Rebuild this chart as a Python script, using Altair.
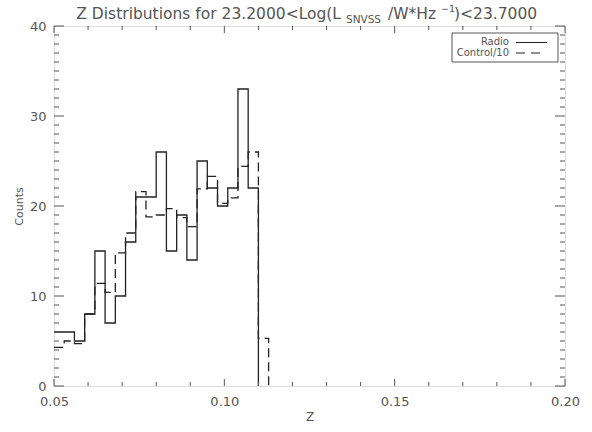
import altair as alt
import pandas as pd

# ---- data ----
bin_edges = [0.050, 0.053, 0.056, 0.059, 0.062, 0.065, 0.068, 0.071, 0.074, 0.077,
             0.080, 0.083, 0.086, 0.089, 0.092, 0.095, 0.098, 0.101, 0.104, 0.107,
             0.110, 0.113]
radio_counts = [6, 6, 5, 8, 15, 7, 10, 16, 21, 21, 26, 15, 19, 14, 25, 22, 20, 22, 33, 22]
control_counts = [4.3, 5.0, 4.7, 8.0, 11.4, 10.4, 14.8, 17.0, 21.6, 18.8, 19.0, 19.7,
                  18.7, 17.7, 21.9, 23.3, 20.3, 20.9, 24.4, 26.0, 5.3]

x_major = [0.05, 0.10, 0.15, 0.20]
x_minor = [0.06, 0.07, 0.08, 0.09, 0.11, 0.12, 0.13, 0.14, 0.16, 0.17, 0.18, 0.19]
y_major = [0, 10, 20, 30, 40]
y_minor = [v for v in range(0, 41) if v % 10 != 0]

title_parts = ["Z Distributions for 23.2000<Log(L", "SNVSS", "/W*Hz", "\u22121", ")<23.7000"]
legend_labels = ["Radio", "Control/10"]

W, H = 511, 360
GREY = "#555555"
LINE = "#222222"
FONT = "DejaVu Sans"

radio_df = pd.DataFrame({"z": bin_edges[:len(radio_counts) + 1],
                         "count": radio_counts + [0]})
control_df = pd.DataFrame({"z": bin_edges[:len(control_counts) + 1],
                           "count": control_counts + [0]})
one_row = pd.DataFrame({"k": [0]})

xscale = alt.Scale(domain=[0.05, 0.20], nice=False, zero=False)
yscale = alt.Scale(domain=[0, 40], nice=False)

common_axis = dict(grid=False, domain=False, tickColor=GREY, tickWidth=1,
                   labelColor=GREY, labelFont=FONT, titleFont=FONT, titleColor=GREY,
                   titleFontWeight="normal", labelFlush=False)

x_lab = alt.Axis(orient="bottom", values=x_major, format=".2f", tickSize=0,
                 labelPadding=9, labelFontSize=13, title="Z", titleFontSize=12,
                 titleX=W / 2, titleY=30, titleBaseline="middle", **common_axis)
y_lab = alt.Axis(orient="left", values=y_major, tickSize=0, labelPadding=8,
                 labelFontSize=13, title="Counts", titleFontSize=11,
                 titleX=-35, titleY=H / 2, titleAngle=-90, titleAlign="center",
                 titleBaseline="middle", **common_axis)

solid = alt.Chart(radio_df).mark_line(interpolate="step-after", color=LINE,
                                      strokeWidth=1.3).encode(
    x=alt.X("z:Q", scale=xscale, axis=x_lab),
    y=alt.Y("count:Q", scale=yscale, axis=y_lab),
)

dashed = alt.Chart(control_df).mark_line(interpolate="step-after", color=LINE,
                                         strokeWidth=1.3, strokeDash=[9, 5]).encode(
    x=alt.X("z:Q", scale=xscale, axis=None),
    y=alt.Y("count:Q", scale=yscale, axis=None),
)


# inward tick marks (IDL style) on all four sides, placed through the shared scales
def xticks(vals, length):
    df = pd.DataFrame({"v": vals})
    bottom = alt.Chart(df).mark_rule(color=GREY, strokeWidth=1).encode(
        x=alt.X("v:Q", scale=xscale, axis=None),
        y=alt.value(H), y2=alt.value(H - length))
    top = alt.Chart(df).mark_rule(color=GREY, strokeWidth=1).encode(
        x=alt.X("v:Q", scale=xscale, axis=None),
        y=alt.value(0), y2=alt.value(length))
    return [bottom, top]


def yticks(vals, length):
    df = pd.DataFrame({"v": vals})
    left = alt.Chart(df).mark_rule(color=GREY, strokeWidth=1).encode(
        y=alt.Y("v:Q", scale=yscale, axis=None),
        x=alt.value(0), x2=alt.value(length))
    right = alt.Chart(df).mark_rule(color=GREY, strokeWidth=1).encode(
        y=alt.Y("v:Q", scale=yscale, axis=None),
        x=alt.value(W), x2=alt.value(W - length))
    return [left, right]


tick_layers = xticks(x_major, 7) + xticks(x_minor, 4) + yticks(y_major, 10) + yticks(y_minor, 5)


def txt(s, x, y, size, align="left"):
    return alt.Chart(one_row).mark_text(
        text=s, align=align, baseline="alphabetic", font=FONT, fontSize=size,
        color=GREY).encode(x=alt.value(x), y=alt.value(y))


title_layers = [
    txt(title_parts[0], 287, -7, 15.5, "right"),
    txt(title_parts[1], 292, -3, 10.5),
    txt(title_parts[2], 334, -7, 15.5),
    txt(title_parts[3], 387, -14, 9.5),
    txt(title_parts[4], 400, -7, 15.5),
]

legend_box = alt.Chart(one_row).mark_rect(fill=None, stroke=GREY, strokeWidth=1).encode(
    x=alt.value(398), x2=alt.value(504), y=alt.value(7), y2=alt.value(36))
leg_t1 = txt(legend_labels[0], 455, 19, 10, "right")
leg_t2 = txt(legend_labels[1], 455, 29.5, 10, "right")
leg_l1 = alt.Chart(one_row).mark_rule(color=LINE, strokeWidth=1).encode(
    x=alt.value(462), x2=alt.value(493), y=alt.value(16.5))
leg_l2 = alt.Chart(one_row).mark_rule(color=LINE, strokeWidth=1, strokeDash=[9, 6]).encode(
    x=alt.value(462), x2=alt.value(486), y=alt.value(27))

chart = alt.layer(
    solid, dashed, *tick_layers,
    *title_layers, legend_box, leg_t1, leg_t2, leg_l1, leg_l2
).resolve_axis(x="independent", y="independent").properties(
    width=W, height=H,
    autosize=alt.AutoSizeParams(type="none"),
    padding={"left": 54, "top": 26, "right": 27, "bottom": 46},
).configure_view(stroke=GREY, strokeWidth=1).configure(background="white")

chart.save("out.html", embed_options={"renderer": "svg", "actions": False})
